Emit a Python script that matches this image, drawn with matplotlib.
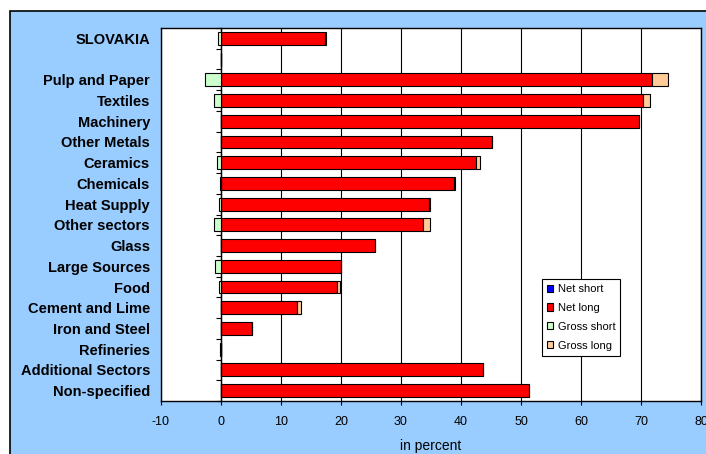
import matplotlib
matplotlib.use('Agg')
import matplotlib.pyplot as plt
from matplotlib.patches import Rectangle, Patch
import numpy as np

plt.rcParams['font.family'] = ['Liberation Sans', 'DejaVu Sans']

# категории сверху вниз (пустая строка - разрыв после SLOVAKIA)
categories = ['SLOVAKIA', '', 'Pulp and Paper', 'Textiles', 'Machinery', 'Other Metals',
              'Ceramics', 'Chemicals', 'Heat Supply', 'Other sectors', 'Glass',
              'Large Sources', 'Food', 'Cement and Lime', 'Iron and Steel', 'Refineries',
              'Additional Sectors', 'Non-specified']
net_short = [0, 0, 0, 0, 0, 0, 0, 0, 0, 0, 0, 0, 0, 0, 0, 0, 0, 0]
net_long = [17.3, 0, 71.8, 70.3, 69.6, 45.2, 42.5, 38.8, 34.6, 33.7, 25.7,
            20.0, 19.3, 12.6, 5.1, 0, 43.6, 51.4]
gross_short = [-0.5, 0, -2.7, -1.2, 0, 0, -0.7, -0.1, -0.3, -1.2, 0,
               -1.0, -0.4, 0, 0, -0.1, 0, 0]
gross_long = [0.2, 0, 2.7, 1.2, 0, 0, 0.7, 0.2, 0.15, 1.2, 0,
              0, 0.5, 0.8, 0, 0, 0, 0]
x_ticks = [-10, 0, 10, 20, 30, 40, 50, 60, 70, 80]

c_net_short = '#0000FF'
c_net_long = '#FF0000'
c_gross_short = '#CCFFCC'
c_gross_long = '#FFCC99'

fig = plt.figure(figsize=(7.06, 4.54), dpi=100)
fig.patch.set_facecolor('white')

# голубая подложка диаграммы
fig.add_artist(Rectangle((10 / 706, -0.05), 1.1, 1 - 11 / 454 + 0.05, transform=fig.transFigure,
                         facecolor='#99CCFF', edgecolor='black', linewidth=1.2, zorder=-1))

ax = fig.add_axes([161 / 706, 1 - 401 / 454, 540 / 706, 373 / 454])
ax.set_facecolor('white')

y = np.arange(len(categories))
h = 0.62
nl = np.array(net_long)
ns = np.array(net_short)

ax.barh(y, net_long, height=h, color=c_net_long, edgecolor='black', linewidth=0.8, zorder=3)
ax.barh(y, gross_long, left=nl, height=h, color=c_gross_long, edgecolor='black', linewidth=0.8, zorder=3)
ax.barh(y, net_short, height=h, color=c_net_short, edgecolor='black', linewidth=0.8, zorder=3)
ax.barh(y, gross_short, left=ns, height=h, color=c_gross_short, edgecolor='black', linewidth=0.8, zorder=3)

ax.set_xlim(-10, 80)
ax.set_ylim(len(categories) - 0.5, -0.5)
ax.set_xticks(x_ticks)
ax.set_xticklabels([str(t) for t in x_ticks], fontsize=9)
ax.tick_params(axis='x', direction='out', length=3, pad=8, width=0.8)
ax.set_yticks(y)
ax.set_yticklabels(categories, fontsize=10.5, fontweight='bold')
ax.tick_params(axis='y', length=0, pad=8)
ax.set_xlabel('in percent', fontsize=10, labelpad=8)

ax.grid(axis='x', color='black', linewidth=0.8, zorder=1)
ax.set_axisbelow(True)
for s in ax.spines.values():
    s.set_color('black')
    s.set_linewidth(1.0)

# ось категорий проходит через 0
sec = ax.secondary_yaxis(10 / 90)
sec.set_yticks(np.arange(-0.5, len(categories), 1))
sec.set_yticklabels([])
sec.tick_params(direction='out', length=3.5, width=0.8)
sec.spines['left'].set_linewidth(1.0)

handles = [Patch(facecolor=c_net_short, edgecolor='black', linewidth=0.8),
           Patch(facecolor=c_net_long, edgecolor='black', linewidth=0.8),
           Patch(facecolor=c_gross_short, edgecolor='black', linewidth=0.8),
           Patch(facecolor=c_gross_long, edgecolor='black', linewidth=0.8)]
leg = ax.legend(handles, ['Net short', 'Net long', 'Gross short', 'Gross long'],
                loc='upper left', bbox_to_anchor=(0.705, 0.327), fontsize=8,
                handlelength=0.6, handleheight=0.6, handletextpad=0.4,
                labelspacing=0.8, borderpad=0.45, borderaxespad=0,
                fancybox=False, framealpha=1, edgecolor='black')
leg.get_frame().set_linewidth(0.8)
leg.set_zorder(5)

fig.savefig('out.png', dpi=100)
